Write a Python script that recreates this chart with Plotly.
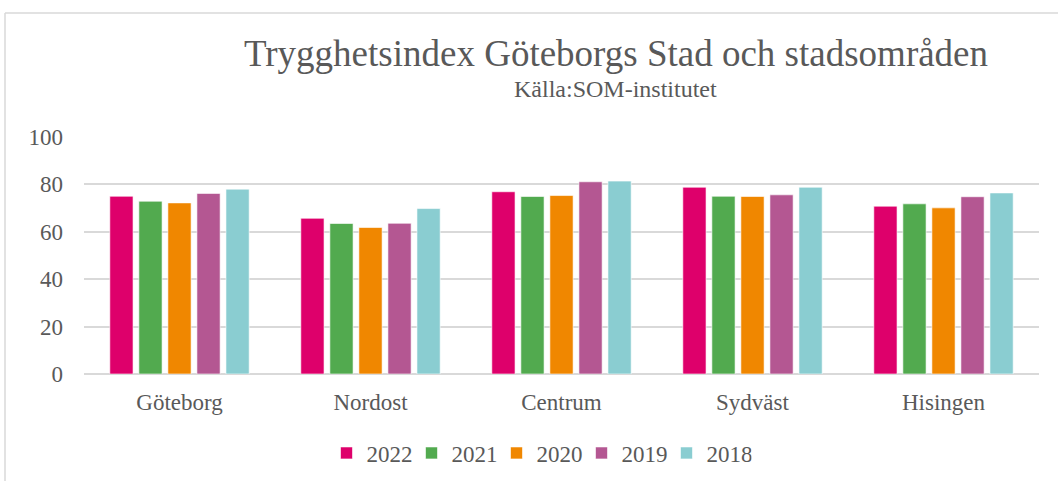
import plotly.graph_objects as go

categories = ["Göteborg", "Nordost", "Centrum", "Sydväst", "Hisingen"]
years = ["2022", "2021", "2020", "2019", "2018"]
v2022 = [75.0, 65.7, 76.9, 78.8, 70.8]
v2021 = [72.9, 63.5, 74.9, 75.0, 71.8]
v2020 = [72.2, 61.8, 75.3, 74.9, 70.1]
v2019 = [76.2, 63.6, 81.1, 75.6, 74.8]
v2018 = [78.0, 69.8, 81.4, 78.8, 76.4]
series = [v2022, v2021, v2020, v2019, v2018]
colors = ["#DE006B", "#52AA4F", "#F08700", "#B45792", "#8ACDD1"]

FONT = "Liberation Serif"
TXT = "#595959"

fig = go.Figure()
for y, vals, c in zip(years, series, colors):
    fig.add_trace(go.Bar(x=categories, y=vals, name=y,
                         marker=dict(color=c, line=dict(color="rgba(255,255,255,0.6)", width=1))))

L, R, T, B = 84, 19, 137, 107
W, H = 1058, 481
pw, ph = W - L - R, H - T - B

def px(x):
    return (x - L) / pw

def py(y):
    return (H - B - y) / ph

fig.update_layout(
    width=W, height=H,
    margin=dict(l=L, r=R, t=T, b=B, autoexpand=False),
    paper_bgcolor="white", plot_bgcolor="white",
    barmode="group", bargap=0.24, bargroupgap=0.2,
    font=dict(family=FONT, color=TXT, size=23),
    showlegend=True,
    legend=dict(orientation="h", x=px(539), y=py(453), xanchor="center", yanchor="middle",
                font=dict(size=23, color=TXT, family=FONT), traceorder="normal", itemwidth=30,
                entrywidth=40, entrywidthmode="pixels", bgcolor="rgba(0,0,0,0)"),
    xaxis=dict(showgrid=False, showline=False, ticks="", tickfont=dict(size=23, color=TXT, family=FONT),
               ticklabelstandoff=12, fixedrange=True),
    yaxis=dict(range=[0, 100], dtick=20, showgrid=True, gridcolor="#D9D9D9", gridwidth=1.5,
               zeroline=True, zerolinecolor="#D9D9D9", zerolinewidth=2, showline=False,
               tickfont=dict(size=23, color=TXT, family=FONT), ticklabelstandoff=20, fixedrange=True),
    annotations=[
        dict(text="Trygghetsindex Göteborgs Stad och stadsområden", x=px(616), y=py(53), xref="paper", yref="paper",
             showarrow=False, xanchor="center", yanchor="middle", font=dict(size=37, color=TXT, family=FONT)),
        dict(text="Källa:SOM-institutet", x=px(615), y=py(89), xref="paper", yref="paper",
             showarrow=False, xanchor="center", yanchor="middle", font=dict(size=24, color=TXT, family=FONT)),
    ],
    shapes=[
        dict(type="line", xref="paper", yref="paper", x0=px(5), x1=px(1060), y0=py(13), y1=py(13),
             line=dict(color="#D9D9D9", width=1.5)),
        dict(type="line", xref="paper", yref="paper", x0=px(5), x1=px(5), y0=py(13), y1=py(482),
             line=dict(color="#D9D9D9", width=1.5)),
    ],
)

fig.write_html("out.html", config={"displayModeBar": False},
               post_script="document.body.style.margin='0';document.body.style.overflow='hidden';")
